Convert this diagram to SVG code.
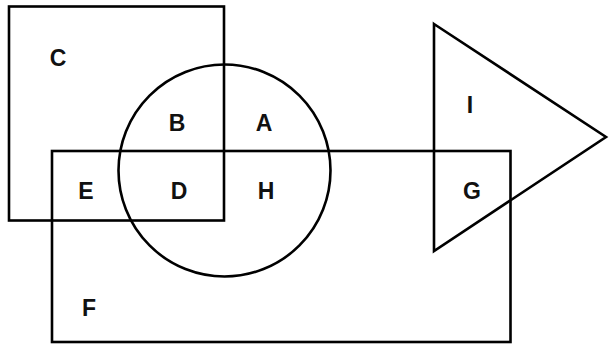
<svg xmlns="http://www.w3.org/2000/svg" width="609" height="345" viewBox="0 0 609 345">
<style>
.s{fill:none;stroke:#000;stroke-width:2.6}
.t{font-family:"Liberation Sans",Arial,sans-serif;font-weight:bold;font-size:23px;text-anchor:middle;fill:#111}
</style>
<rect width="609" height="345" fill="#fff"/>
<g id="shapes">
<g id="square-C"><rect class="s" x="9" y="6.5" width="215" height="214"/></g>
<g id="circle"><circle class="s" cx="224.5" cy="170.5" r="106"/></g>
<g id="rect-F"><rect class="s" x="52" y="151" width="458.5" height="191"/></g>
<g id="triangle"><polygon class="s" points="434,24 606,137 434,251"/></g>
</g>
<g id="labels">
<text class="t" x="58" y="66">C</text>
<text class="t" x="177" y="131">B</text>
<text class="t" x="264" y="131">A</text>
<text class="t" x="86" y="199">E</text>
<text class="t" x="179" y="199">D</text>
<text class="t" x="266" y="199">H</text>
<text class="t" x="470" y="113">I</text>
<text class="t" x="472" y="199">G</text>
<text class="t" x="89" y="316">F</text>
</g>
</svg>
